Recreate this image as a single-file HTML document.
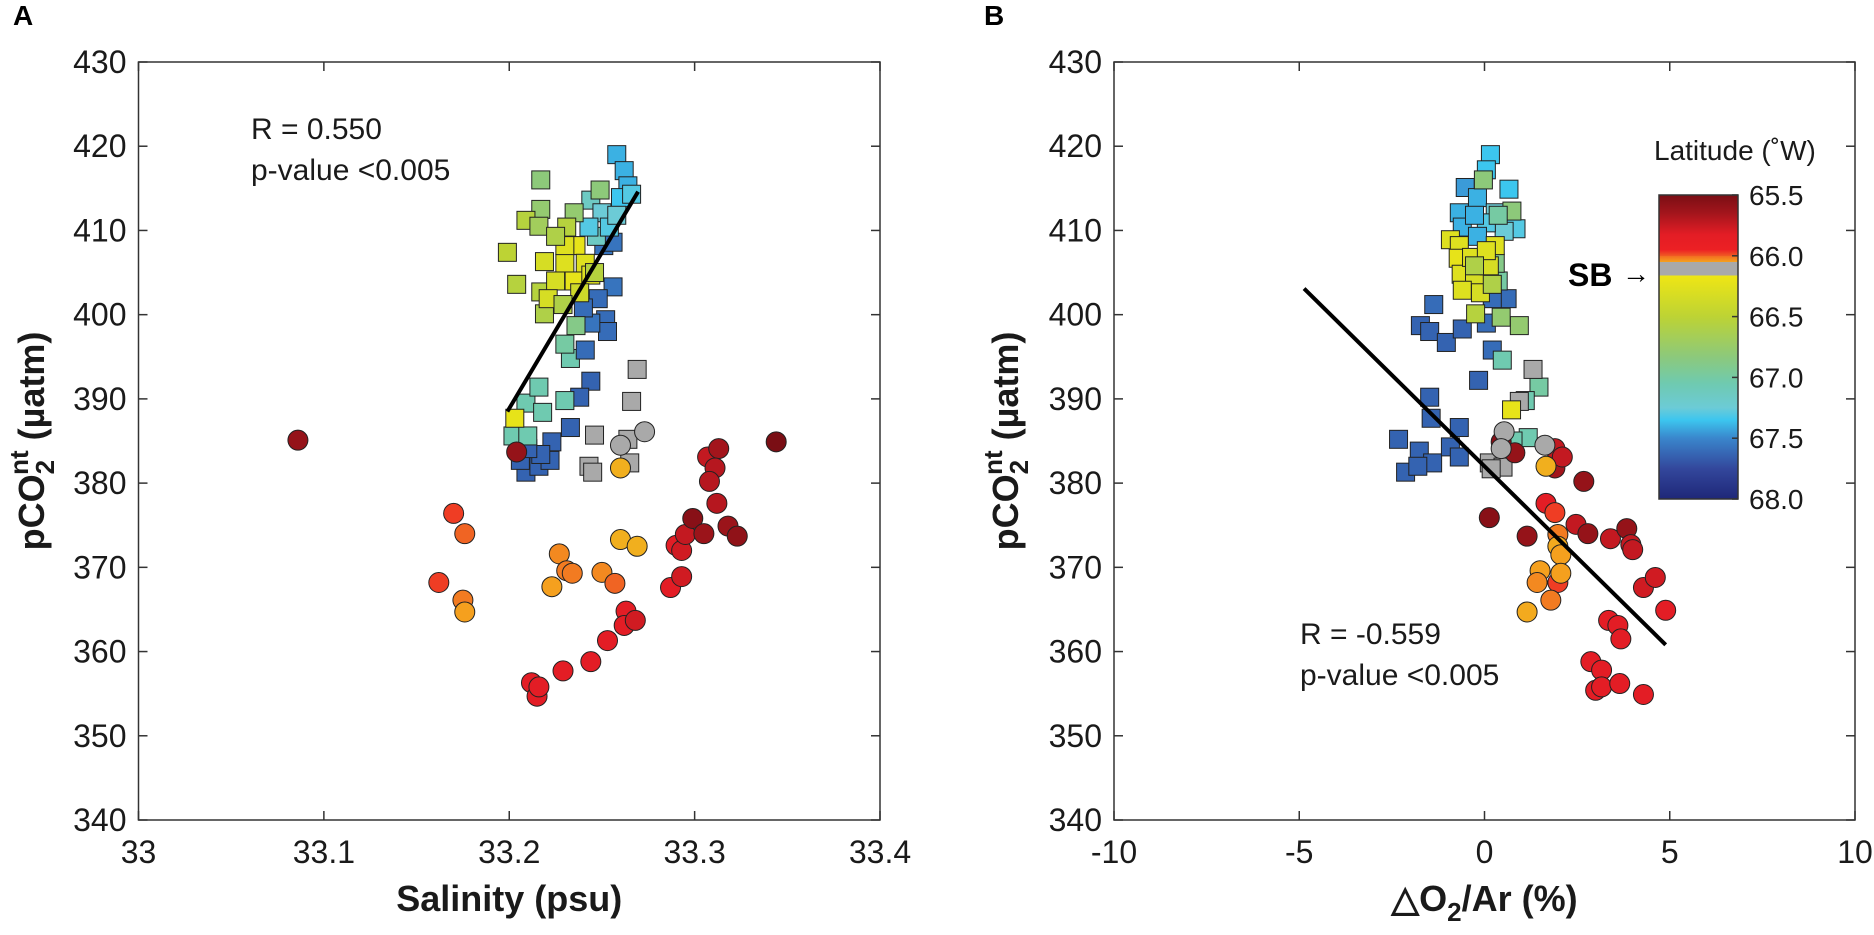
<!DOCTYPE html>
<html><head><meta charset="utf-8"><style>
html,body{margin:0;padding:0;background:#fff;}
svg{display:block;font-family:"Liberation Sans",Arial,sans-serif;}
</style></head><body>
<svg id="chart" width="1874" height="935" viewBox="0 0 1874 935" xmlns="http://www.w3.org/2000/svg">
<defs>
<linearGradient id="cbgrad" x1="0" y1="0" x2="0" y2="1">
<stop offset="0" stop-color="#7a0e14"/><stop offset="0.06" stop-color="#a3151c"/><stop offset="0.13" stop-color="#e31d25"/><stop offset="0.18" stop-color="#ec2024"/>
<stop offset="0.2" stop-color="#f05a23"/><stop offset="0.2" stop-color="#f26b22"/><stop offset="0.22" stop-color="#f5a01e"/>
<stop offset="0.22" stop-color="#a9a9a9"/><stop offset="0.265" stop-color="#a9a9a9"/>
<stop offset="0.265" stop-color="#efe614"/><stop offset="0.4" stop-color="#bdd334"/><stop offset="0.53" stop-color="#8dc97a"/>
<stop offset="0.62" stop-color="#6fcab0"/><stop offset="0.7" stop-color="#6ccbd6"/><stop offset="0.74" stop-color="#3cc6ef"/>
<stop offset="0.8" stop-color="#3a86cc"/><stop offset="0.9" stop-color="#33479c"/><stop offset="1" stop-color="#1f2778"/>
</linearGradient>
</defs>
<g id="plots"></g>
</svg>
<script>
// ---- Panel A data ----
const aSqX=[33.209,33.216,33.222,33.223,33.217,33.206,33.210,33.233,33.244,33.238,
 33.209,33.216,33.218,33.202,33.210,33.230,33.233,33.230,
 33.203,
 33.269,33.266,33.246,33.243,33.245,33.264,33.265,
 33.256,33.252,33.253,33.241,33.244,33.248,33.240,33.251,33.256,
 33.258,33.262,33.264,33.260,33.266,33.244,33.250,33.247,33.254,33.258,33.243,
 33.217,33.217,33.209,33.216,33.199,33.204,33.217,33.219,33.236,33.249,33.235,
 33.236,33.230,33.219,33.241,33.235,33.244,33.225,33.230,33.238,33.221,
 33.231,33.225,33.246,33.229];
const aSqY=[381.3,382,382.7,384.9,383.4,382.7,384.1,386.6,392.1,390.2,
 389.5,391.4,388.4,385.6,385.6,389.8,394.8,396.5,
 387.7,
 393.5,389.7,385.7,382,381.3,385.2,382.4,
 403.3,399.4,398,395.8,399,401.9,400.8,408.2,408.6,
 419,417.1,415.3,413.9,414.3,413.6,412.1,409.3,410.4,411.8,410.4,
 416,412.5,411.2,410.5,407.4,403.6,402.7,400.1,398.7,414.8,412.1,
 408.2,406.1,406.3,406.1,404,404.7,404,408.2,402.6,401.9,
 410.4,409.3,405,401.2];
const aSqLat=[67.6,67.6,67.6,67.6,67.6,67.6,67.6,67.6,67.6,67.6,
 67.05,67.05,67.05,67.05,67.05,67.05,67.05,67.0,
 66.25,
 66.1,66.1,66.1,66.1,66.1,66.1,66.1,
 67.5,67.55,67.55,67.55,67.5,67.55,67.55,67.5,67.5,
 67.3,67.3,67.3,67.25,67.2,67.1,67.15,67.1,67.2,67.15,67.2,
 66.85,66.8,66.55,66.7,66.5,66.55,66.55,66.6,66.9,66.85,66.8,
 66.25,66.3,66.35,66.3,66.25,66.3,66.35,66.3,66.4,66.35,
 66.55,66.6,66.55,66.6];
const aCiX=[33.086,33.344,33.204,33.170,33.176,33.162,33.175,33.176,33.227,33.223,33.231,33.234,33.250,33.257,33.260,33.269,33.260,33.260,33.273,
 33.287,33.293,33.290,33.293,33.295,33.299,33.305,33.307,33.313,33.311,33.308,33.312,33.318,33.323,
 33.263,33.262,33.268,33.253,33.244,33.229,33.212,33.215,33.216];
const aCiY=[385.1,384.9,383.7,376.4,374.0,368.2,366.1,364.7,371.6,367.7,369.6,369.3,369.4,368.1,373.3,372.5,381.8,384.5,386.1,
 367.6,368.9,372.6,372.0,373.9,375.8,374.0,383.1,384.1,381.8,380.2,377.6,374.9,373.7,
 364.8,363.1,363.7,361.3,358.8,357.7,356.3,354.7,355.8];
const aCiLat=[65.6,65.5,65.6,65.87,65.92,65.87,65.95,66.0,65.97,66.0,65.95,65.95,65.97,65.92,66.03,66.03,66.03,66.1,66.1,
 65.75,65.72,65.75,65.72,65.7,65.55,65.62,65.7,65.65,65.68,65.68,65.68,65.62,65.58,
 65.75,65.75,65.72,65.75,65.75,65.75,65.75,65.75,65.75];
const aFitX=[33.199,33.2695];
const aFitY=[388.5,414.6];
// ---- Panel B data ----
const bSqX=[-2.32,-2.13,-1.76,-1.4,-1.8,-0.92,-0.68,-0.68,-1.44,-1.48,-0.16,0.21,-1.73,-1.48,-1.03,-1.37,-0.6,0.05,0.61,0.21,
 0.48,1.47,1.1,0.94,1.31,1.18,0.77,0.73,0.13,0.5,0.18,
 0.16,0.05,0.66,-0.52,-0.19,-0.68,0.29,0.85,-0.6,0.53,0.05,-0.27,-0.19,
 -0.03,0.74,0.37,0.94,0.45,0.37,0.29,
 -0.92,-0.68,-0.71,-0.63,-0.35,-0.27,-0.11,-0.6,0.29,0.13,0.05,
 -0.24,0.21,-0.27];
const bSqY=[385.2,381.3,383.8,382.4,382,384.3,383.1,386.6,387.7,390.2,392.2,395.8,398.7,398,396.7,401.2,398.3,399,401.9,401.9,
 394.6,391.4,389.8,389.7,393.5,385.4,385,388.7,382.4,381.9,381.7,
 419,417.2,414.9,415.1,413.9,412.1,412.1,410.2,410.4,409.9,410.9,411.8,409.3,
 416,412.3,411.8,398.7,399.7,404,406.1,
 408.9,408.2,406.7,404.8,406.8,404.3,402.6,402.9,408.2,405.8,407.6,
 400.1,403.6,405.8];
const bSqLat=[67.6,67.6,67.6,67.6,67.6,67.6,67.6,67.6,67.6,67.6,67.6,67.55,67.6,67.6,67.6,67.55,67.6,67.55,67.55,67.55,
 67.05,67.0,67.05,66.1,66.1,67.05,67.05,66.25,66.1,66.1,66.1,
 67.25,67.25,67.25,67.35,67.3,67.3,67.15,67.2,67.3,67.15,67.2,67.3,67.3,
 66.85,66.85,67.0,66.8,66.8,67.0,66.9,
 66.3,66.3,66.25,66.3,66.3,66.35,66.35,66.3,66.3,66.35,66.3,
 66.55,66.6,66.6];
const bCiX=[0.45,0.82,0.13,1.15,1.9,1.9,2.1,2.68,1.66,1.9,2.47,2.79,3.4,3.84,3.95,4.0,
 1.98,1.98,2.06,1.5,1.42,1.98,2.06,1.79,1.15,1.66,
 4.29,4.61,4.89,3.35,3.6,3.68,2.87,3.16,3.0,3.16,3.65,4.29,
 0.53,0.45,1.63];
const bCiY=[384.9,383.6,375.9,373.7,384.1,381.8,383.1,380.2,377.6,376.5,375.1,374.0,373.4,374.6,372.7,372.1,
 373.9,372.5,371.5,369.6,368.2,368.2,369.3,366.1,364.7,382,
 367.6,368.8,364.9,363.7,363.1,361.5,358.8,357.8,355.4,355.8,356.2,354.9,
 386.1,384.1,384.5];
const bCiLat=[65.55,65.6,65.55,65.6,65.7,65.65,65.7,65.6,65.75,65.87,65.7,65.6,65.7,65.6,65.7,65.7,
 65.95,66.02,66.0,66.0,65.97,65.87,66.0,65.95,66.02,66.03,
 65.72,65.72,65.75,65.75,65.75,65.75,65.75,65.75,65.75,65.75,65.75,65.75,
 66.1,66.1,66.1];
const bFitX=[-4.87,4.89];
const bFitY=[403.1,360.8];
// ticks
const yTicks=[340,350,360,370,380,390,400,410,420,430];
const aXTicks=[33,33.1,33.2,33.3,33.4];
const aXTickLabels=["33","33.1","33.2","33.3","33.4"];
const bXTicks=[-10,-5,0,5,10];
const bXTickLabels=["-10","-5","0","5","10"];
const cbTicks=[65.5,66.0,66.5,67.0,67.5,68.0];
const cbTickLabels=["65.5","66.0","66.5","67.0","67.5","68.0"];

const NS="http://www.w3.org/2000/svg";
const root=document.getElementById('plots');
function mk(tag,attrs,parent){const e=document.createElementNS(NS,tag);for(const k in attrs)e.setAttribute(k,attrs[k]);(parent||root).appendChild(e);return e;}

const cmStops=[[65.5,[122,14,20]],[65.65,[163,21,28]],[65.75,[227,29,37]],[65.85,[238,45,36]],[65.92,[240,100,35]],[66.0,[245,160,30]],[66.04,[240,180,30]],
 [66.2,[239,230,20]],[66.5,[189,211,52]],[66.85,[141,201,122]],[67.05,[111,202,176]],[67.15,[108,203,214]],[67.25,[60,198,239]],[67.4,[58,134,204]],[67.65,[51,90,170]],[68.0,[31,39,120]]];
function cmap(l){
  if(l>=66.06&&l<=66.16) return 'rgb(169,169,169)';
  if(l<=cmStops[0][0]) return 'rgb('+cmStops[0][1]+')';
  for(let i=1;i<cmStops.length;i++){ if(l<=cmStops[i][0]){const a=cmStops[i-1],b=cmStops[i];const t=(l-a[0])/(b[0]-a[0]);
    return 'rgb('+a[1].map((v,j)=>Math.round(v+(b[1][j]-v)*t)).join(',')+')';}}
  return 'rgb('+cmStops[cmStops.length-1][1]+')';
}

function panel(cfg){
  const g=mk('g',{});
  
  
  const L=cfg.L,R=cfg.R,T=62,B=820;
  const sx=v=>L+(v-cfg.x0)/(cfg.x1-cfg.x0)*(R-L);
  const sy=v=>B-(v-340)/(430-340)*(B-T);
  const fr=mk('rect',{x:L,y:T,width:R-L,height:B-T,fill:'#fff',stroke:'#333','stroke-width':1.5},g);
  
  
  yTicks.forEach(v=>{
    const y=sy(v);
    mk('line',{x1:L,y1:y,x2:L+9,y2:y,stroke:'#333','stroke-width':1.5},g);
    mk('line',{x1:R,y1:y,x2:R-9,y2:y,stroke:'#333','stroke-width':1.5},g);
    const t=mk('text',{x:L-12,y:y+11,'font-size':32,'text-anchor':'end',fill:'#1a1a1a'},g);
    t.textContent=v;
    
    
  });
  cfg.xt.forEach((v,i)=>{
    const x=sx(v);
    mk('line',{x1:x,y1:B,x2:x,y2:B-9,stroke:'#333','stroke-width':1.5},g);
    mk('line',{x1:x,y1:T,x2:x,y2:T+9,stroke:'#333','stroke-width':1.5},g);
    const t=mk('text',{x:x,y:863,'font-size':32,'text-anchor':'middle',fill:'#1a1a1a'},g);
    t.textContent=cfg.xl[i];
    
    
  });
  const sq=mk('g',{},g);
  
  
  cfg.sqX.forEach((v,i)=>{
    const s=18;
    const r=mk('rect',{x:sx(v)-s/2,y:sy(cfg.sqY[i])-s/2,width:s,height:s,fill:cmap(cfg.sqL[i]),stroke:'#222','stroke-width':1},sq);
    
    
  });
  const ci=mk('g',{},g);
  
  
  cfg.ciX.forEach((v,i)=>{
    const c=mk('circle',{cx:sx(v),cy:sy(cfg.ciY[i]),r:10,fill:cmap(cfg.ciL[i]),stroke:'#222','stroke-width':1},ci);
    
    
  });
  const ln=mk('line',{x1:sx(cfg.fx[0]),y1:sy(cfg.fy[0]),x2:sx(cfg.fx[1]),y2:sy(cfg.fy[1]),stroke:'#000','stroke-width':4},g);
  
  
  const xl=mk('text',{x:(L+R)/2,y:911,'font-size':36,'font-weight':'bold','text-anchor':'middle',fill:'#1a1a1a'},g);
  xl.innerHTML=cfg.xlabel;
  
  
  const yl=mk('text',{transform:'translate('+(cfg.ylx)+',441) rotate(-90)','font-size':36,'font-weight':'bold','text-anchor':'middle',fill:'#1a1a1a'},g);
  yl.innerHTML='pCO<tspan font-size="26" dy="10">2</tspan><tspan font-size="26" dx="-15" dy="-26">nt</tspan><tspan dy="16"> (µatm)</tspan>';
  
  
  const pl=mk('text',{x:cfg.plx,y:25,'font-size':28,'font-weight':'bold',fill:'#000'},g);
  pl.textContent=cfg.label;
  
  
  cfg.stats.forEach((s,i)=>{
    const t=mk('text',{x:cfg.stx,y:cfg.sty+i*41,'font-size':30,fill:'#1a1a1a'},g);
    t.textContent=s;
    
    
  });
}
panel({name:'panel-a',label:'A',plx:13,L:138.5,R:880,x0:33,x1:33.4,xt:aXTicks,xl:aXTickLabels,
  sqX:aSqX,sqY:aSqY,sqL:aSqLat,ciX:aCiX,ciY:aCiY,ciL:aCiLat,fx:aFitX,fy:aFitY,
  xlabel:'Salinity (psu)',ylx:44,stats:['R = 0.550','p-value <0.005'],stx:251,sty:139});
panel({name:'panel-b',label:'B',plx:984,L:1114,R:1855,x0:-10,x1:10,xt:bXTicks,xl:bXTickLabels,
  sqX:bSqX,sqY:bSqY,sqL:bSqLat,ciX:bCiX,ciY:bCiY,ciL:bCiLat,fx:bFitX,fy:bFitY,
  xlabel:'△O<tspan font-size="26" dy="10">2</tspan><tspan dy="-10">/Ar (%)</tspan>',ylx:1018,stats:['R = -0.559','p-value <0.005'],stx:1300,sty:644});

// colorbar
const cb=mk('g',{});


const CT=195,CB=499,CL=1659,CR=1738;
const cy=v=>CT+(v-65.5)/(68-65.5)*(CB-CT);
mk('rect',{x:CL,y:CT,width:CR-CL,height:CB-CT,fill:'url(#cbgrad)',stroke:'#333','stroke-width':1.5},cb);
cbTicks.forEach((v,i)=>{
  const y=cy(v);
  mk('line',{x1:CR,y1:y,x2:CR-6,y2:y,stroke:'#333','stroke-width':1.5},cb);
  const t=mk('text',{x:1749,y:y+10,'font-size':28,fill:'#1a1a1a'},cb);
  t.textContent=cbTickLabels[i];
  
  
});
const ct=mk('text',{x:1654,y:160,'font-size':28,fill:'#1a1a1a'},cb);
ct.textContent='Latitude (˚W)';


const sb=mk('text',{x:1568,y:286,'font-size':32,'font-weight':'bold',fill:'#000'},cb);
sb.textContent='SB';


const ar=mk('text',{x:1622,y:283,'font-size':28,fill:'#000'},cb);
ar.textContent='→';


</script>
</body></html>
